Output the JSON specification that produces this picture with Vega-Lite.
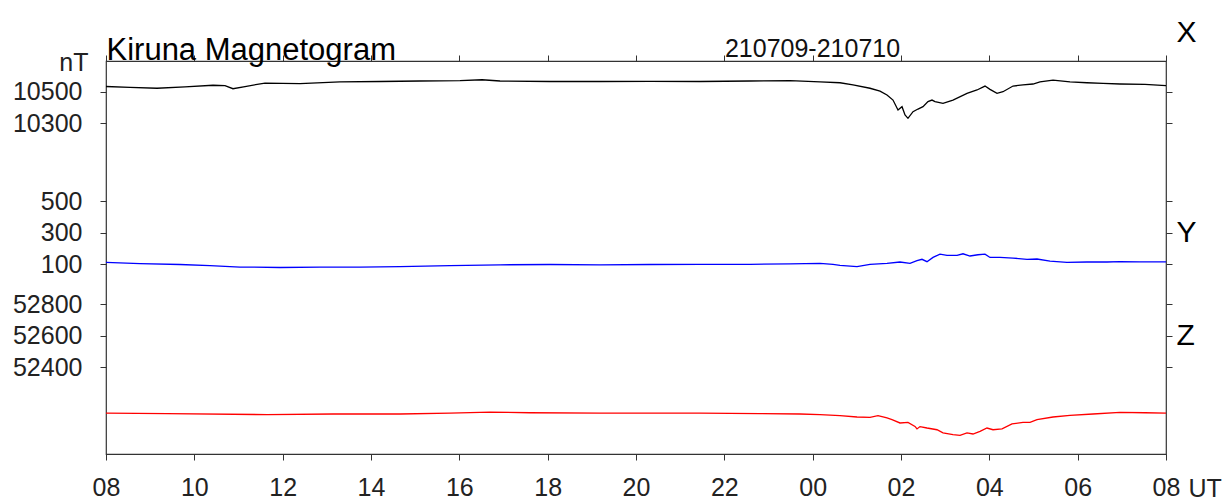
{
  "$schema": "https://vega.github.io/schema/vega-lite/v6.json",
  "width": 1060,
  "height": 393,
  "autosize": {"type": "none"},
  "padding": {"left": 106, "top": 61, "right": 57, "bottom": 47},
  "background": "white",
  "config": {
    "font": "Liberation Sans",
    "view": {"stroke": "#333333", "strokeWidth": 1.2},
    "axis": {"grid": false, "domain": false, "tickColor": "#333333", "tickSize": 6, "labelColor": "#222222", "labelFontSize": 25, "labelOverlap": false, "labelFlush": false, "titleFontWeight": "normal", "titleColor": "#111111", "titleAngle": 0}
  },
  "datasets": {
    "mag": [
      {"c": "X", "h": 0, "v": 10533}, {"c": "X", "h": 0.543, "v": 10527}, {"c": "X", "h": 1.155, "v": 10522}, {"c": "X", "h": 1.789, "v": 10531},
      {"c": "X", "h": 2.423, "v": 10541}, {"c": "X", "h": 2.694, "v": 10539}, {"c": "X", "h": 2.875, "v": 10519}, {"c": "X", "h": 3.147, "v": 10533},
      {"c": "X", "h": 3.6, "v": 10555}, {"c": "X", "h": 4.392, "v": 10552}, {"c": "X", "h": 5.298, "v": 10562}, {"c": "X", "h": 6.204, "v": 10565},
      {"c": "X", "h": 7.109, "v": 10568}, {"c": "X", "h": 8.015, "v": 10571}, {"c": "X", "h": 8.513, "v": 10576}, {"c": "X", "h": 8.921, "v": 10568},
      {"c": "X", "h": 10.053, "v": 10565}, {"c": "X", "h": 11.185, "v": 10565}, {"c": "X", "h": 12.317, "v": 10566}, {"c": "X", "h": 13.449, "v": 10565},
      {"c": "X", "h": 14.581, "v": 10568}, {"c": "X", "h": 15.487, "v": 10571}, {"c": "X", "h": 16.166, "v": 10563}, {"c": "X", "h": 16.619, "v": 10557},
      {"c": "X", "h": 16.913, "v": 10543}, {"c": "X", "h": 17.298, "v": 10522}, {"c": "X", "h": 17.525, "v": 10504}, {"c": "X", "h": 17.683, "v": 10479},
      {"c": "X", "h": 17.819, "v": 10447}, {"c": "X", "h": 17.932, "v": 10384}, {"c": "X", "h": 18.023, "v": 10405}, {"c": "X", "h": 18.091, "v": 10352},
      {"c": "X", "h": 18.158, "v": 10331}, {"c": "X", "h": 18.272, "v": 10373}, {"c": "X", "h": 18.385, "v": 10390}, {"c": "X", "h": 18.498, "v": 10405},
      {"c": "X", "h": 18.611, "v": 10437}, {"c": "X", "h": 18.702, "v": 10447}, {"c": "X", "h": 18.77, "v": 10437}, {"c": "X", "h": 18.951, "v": 10426},
      {"c": "X", "h": 19.177, "v": 10447}, {"c": "X", "h": 19.494, "v": 10490}, {"c": "X", "h": 19.721, "v": 10511}, {"c": "X", "h": 19.902, "v": 10536},
      {"c": "X", "h": 20.015, "v": 10515}, {"c": "X", "h": 20.174, "v": 10490}, {"c": "X", "h": 20.309, "v": 10500}, {"c": "X", "h": 20.536, "v": 10536},
      {"c": "X", "h": 20.762, "v": 10543}, {"c": "X", "h": 20.989, "v": 10549}, {"c": "X", "h": 21.147, "v": 10563}, {"c": "X", "h": 21.442, "v": 10574},
      {"c": "X", "h": 21.826, "v": 10563}, {"c": "X", "h": 22.211, "v": 10557}, {"c": "X", "h": 22.574, "v": 10553}, {"c": "X", "h": 22.958, "v": 10549},
      {"c": "X", "h": 23.525, "v": 10546}, {"c": "X", "h": 24, "v": 10539},
      {"c": "Y", "h": 0, "v": 113}, {"c": "Y", "h": 0.77, "v": 105}, {"c": "Y", "h": 1.675, "v": 99}, {"c": "Y", "h": 2.355, "v": 92},
      {"c": "Y", "h": 3.034, "v": 83}, {"c": "Y", "h": 3.94, "v": 80}, {"c": "Y", "h": 4.845, "v": 82}, {"c": "Y", "h": 5.751, "v": 83},
      {"c": "Y", "h": 6.657, "v": 86}, {"c": "Y", "h": 7.789, "v": 92}, {"c": "Y", "h": 8.921, "v": 97}, {"c": "Y", "h": 10.053, "v": 99},
      {"c": "Y", "h": 11.185, "v": 97}, {"c": "Y", "h": 12.317, "v": 99}, {"c": "Y", "h": 13.449, "v": 100}, {"c": "Y", "h": 14.581, "v": 100},
      {"c": "Y", "h": 15.487, "v": 103}, {"c": "Y", "h": 16.166, "v": 106}, {"c": "Y", "h": 16.46, "v": 100}, {"c": "Y", "h": 16.619, "v": 94},
      {"c": "Y", "h": 17.004, "v": 85}, {"c": "Y", "h": 17.298, "v": 100}, {"c": "Y", "h": 17.683, "v": 106}, {"c": "Y", "h": 17.977, "v": 115},
      {"c": "Y", "h": 18.204, "v": 106}, {"c": "Y", "h": 18.362, "v": 123}, {"c": "Y", "h": 18.475, "v": 132}, {"c": "Y", "h": 18.589, "v": 117},
      {"c": "Y", "h": 18.725, "v": 144}, {"c": "Y", "h": 18.883, "v": 165}, {"c": "Y", "h": 19.042, "v": 157}, {"c": "Y", "h": 19.268, "v": 157},
      {"c": "Y", "h": 19.404, "v": 167}, {"c": "Y", "h": 19.562, "v": 153}, {"c": "Y", "h": 19.743, "v": 161}, {"c": "Y", "h": 19.902, "v": 165},
      {"c": "Y", "h": 20.015, "v": 144}, {"c": "Y", "h": 20.242, "v": 144}, {"c": "Y", "h": 20.536, "v": 140}, {"c": "Y", "h": 20.853, "v": 132},
      {"c": "Y", "h": 21.079, "v": 134}, {"c": "Y", "h": 21.374, "v": 121}, {"c": "Y", "h": 21.758, "v": 113}, {"c": "Y", "h": 22.211, "v": 115},
      {"c": "Y", "h": 22.664, "v": 115}, {"c": "Y", "h": 22.958, "v": 117}, {"c": "Y", "h": 23.411, "v": 116}, {"c": "Y", "h": 24, "v": 116},
      {"c": "Z", "h": 0, "v": 52110}, {"c": "Z", "h": 1.381, "v": 52106}, {"c": "Z", "h": 3.645, "v": 52100}, {"c": "Z", "h": 5.14, "v": 52104},
      {"c": "Z", "h": 6.657, "v": 52104}, {"c": "Z", "h": 7.789, "v": 52109}, {"c": "Z", "h": 8.694, "v": 52116}, {"c": "Z", "h": 9.6, "v": 52112},
      {"c": "Z", "h": 11.185, "v": 52109}, {"c": "Z", "h": 13.449, "v": 52109}, {"c": "Z", "h": 14.808, "v": 52106}, {"c": "Z", "h": 15.713, "v": 52104},
      {"c": "Z", "h": 16.166, "v": 52100}, {"c": "Z", "h": 16.619, "v": 52093}, {"c": "Z", "h": 17.004, "v": 52085}, {"c": "Z", "h": 17.298, "v": 52083},
      {"c": "Z", "h": 17.479, "v": 52093}, {"c": "Z", "h": 17.683, "v": 52079}, {"c": "Z", "h": 17.796, "v": 52068}, {"c": "Z", "h": 17.977, "v": 52047},
      {"c": "Z", "h": 18.158, "v": 52051}, {"c": "Z", "h": 18.317, "v": 52025}, {"c": "Z", "h": 18.362, "v": 52009}, {"c": "Z", "h": 18.43, "v": 52024},
      {"c": "Z", "h": 18.589, "v": 52015}, {"c": "Z", "h": 18.815, "v": 52004}, {"c": "Z", "h": 18.951, "v": 51984}, {"c": "Z", "h": 19.177, "v": 51973},
      {"c": "Z", "h": 19.336, "v": 51968}, {"c": "Z", "h": 19.494, "v": 51984}, {"c": "Z", "h": 19.63, "v": 51977}, {"c": "Z", "h": 19.789, "v": 51994},
      {"c": "Z", "h": 19.947, "v": 52015}, {"c": "Z", "h": 20.083, "v": 52004}, {"c": "Z", "h": 20.287, "v": 52009}, {"c": "Z", "h": 20.513, "v": 52041},
      {"c": "Z", "h": 20.762, "v": 52051}, {"c": "Z", "h": 20.921, "v": 52051}, {"c": "Z", "h": 21.079, "v": 52068}, {"c": "Z", "h": 21.442, "v": 52085},
      {"c": "Z", "h": 21.826, "v": 52095}, {"c": "Z", "h": 22.347, "v": 52104}, {"c": "Z", "h": 22.958, "v": 52114}, {"c": "Z", "h": 23.525, "v": 52112},
      {"c": "Z", "h": 24, "v": 52109}
    ]
  },
  "data": {"name": "mag"},
  "layer": [
    {
      "transform": [{"filter": "datum.c == 'X'"}],
      "mark": {"type": "line", "color": "black", "strokeWidth": 1.3},
      "encoding": {
        "x": {"field": "h", "type": "quantitative", "scale": {"domain": [0, 24], "nice": false, "zero": false},
          "axis": {"orient": "bottom", "values": [0, 2, 4, 6, 8, 10, 12, 14, 16, 18, 20, 22, 24], "labelExpr": "((((datum.value + 8) % 24) < 10) ? '0' : '') + ((datum.value + 8) % 24)", "labelPadding": 15, "labelBaseline": "top", "title": "UT", "titleFontSize": 25, "titleX": 1082, "titleY": 42, "titleAlign": "left", "titleBaseline": "alphabetic", "titleColor": "#222222"}},
        "y": {"field": "v", "type": "quantitative", "scale": {"domain": [8200, 10695], "nice": false, "zero": false},
          "axis": {"orient": "left", "values": [10300, 10500], "format": "d", "labelPadding": 18, "title": "nT", "titleFontSize": 25, "titleX": -18, "titleY": 9, "titleAlign": "right", "titleBaseline": "alphabetic", "titleColor": "#222222"}}
      }
    },
    {
      "transform": [{"filter": "datum.c == 'Y'"}],
      "mark": {"type": "line", "color": "#0000ff", "strokeWidth": 1.3},
      "encoding": {
        "x": {"field": "h", "type": "quantitative", "scale": {"domain": [0, 24], "nice": false, "zero": false}, "axis": null},
        "y": {"field": "v", "type": "quantitative", "scale": {"domain": [-1104, 1391], "nice": false, "zero": false},
          "axis": {"orient": "left", "values": [100, 300, 500], "format": "d", "labelPadding": 18, "title": null}}
      }
    },
    {
      "transform": [{"filter": "datum.c == 'Z'"}],
      "mark": {"type": "line", "color": "#ff0000", "strokeWidth": 1.3},
      "encoding": {
        "x": {"field": "h", "type": "quantitative", "scale": {"domain": [0, 24], "nice": false, "zero": false}, "axis": null},
        "y": {"field": "v", "type": "quantitative", "scale": {"domain": [51850, 54345], "nice": false, "zero": false},
          "axis": {"orient": "left", "values": [52400, 52600, 52800], "format": "d", "labelPadding": 18, "title": null}}
      }
    },
    {
      "transform": [{"filter": "datum.c == 'X'"}],
      "mark": {"type": "line", "strokeOpacity": 0},
      "encoding": {
        "x": {"field": "h", "type": "quantitative", "scale": {"domain": [0, 24], "nice": false, "zero": false},
          "axis": {"orient": "top", "values": [0, 2, 4, 6, 8, 10, 12, 14, 16, 18, 20, 22, 24], "labels": false, "title": "210709-210710", "titleFontSize": 25, "titleX": 706, "titleY": -5, "titleAlign": "center", "titleBaseline": "alphabetic", "titleColor": "#111111"}},
        "y": {"field": "v", "type": "quantitative", "scale": {"domain": [8200, 10695], "nice": false, "zero": false},
          "axis": {"orient": "right", "values": [10300, 10500], "labels": false, "title": "X", "titleFontSize": 30, "titleX": 10, "titleY": -20, "titleAlign": "left", "titleBaseline": "alphabetic", "titleColor": "#000000"}}
      }
    },
    {
      "transform": [{"filter": "datum.c == 'Y'"}],
      "mark": {"type": "line", "strokeOpacity": 0},
      "encoding": {
        "x": {"field": "h", "type": "quantitative", "scale": {"domain": [0, 24], "nice": false, "zero": false},
          "axis": {"orient": "top", "ticks": false, "labels": false, "title": "Kiruna Magnetogram", "titleFontSize": 31, "titleX": 0, "titleY": -2, "titleAlign": "left", "titleBaseline": "alphabetic", "titleColor": "#000000"}},
        "y": {"field": "v", "type": "quantitative", "scale": {"domain": [-1104, 1391], "nice": false, "zero": false},
          "axis": {"orient": "right", "values": [100, 300, 500], "labelExpr": "datum.value == 300 ? 'Y' : ''", "labelFontSize": 30, "labelColor": "#000000", "labelPadding": 4, "title": null}}
      }
    },
    {
      "transform": [{"filter": "datum.c == 'Z'"}],
      "mark": {"type": "line", "strokeOpacity": 0},
      "encoding": {
        "x": {"field": "h", "type": "quantitative", "scale": {"domain": [0, 24], "nice": false, "zero": false}, "axis": null},
        "y": {"field": "v", "type": "quantitative", "scale": {"domain": [51850, 54345], "nice": false, "zero": false},
          "axis": {"orient": "right", "values": [52400, 52600, 52800], "labelExpr": "datum.value == 52600 ? 'Z' : ''", "labelFontSize": 30, "labelColor": "#000000", "labelPadding": 4, "title": null}}
      }
    }
  ],
  "resolve": {"scale": {"y": "independent"}, "axis": {"x": "independent", "y": "independent"}}
}
